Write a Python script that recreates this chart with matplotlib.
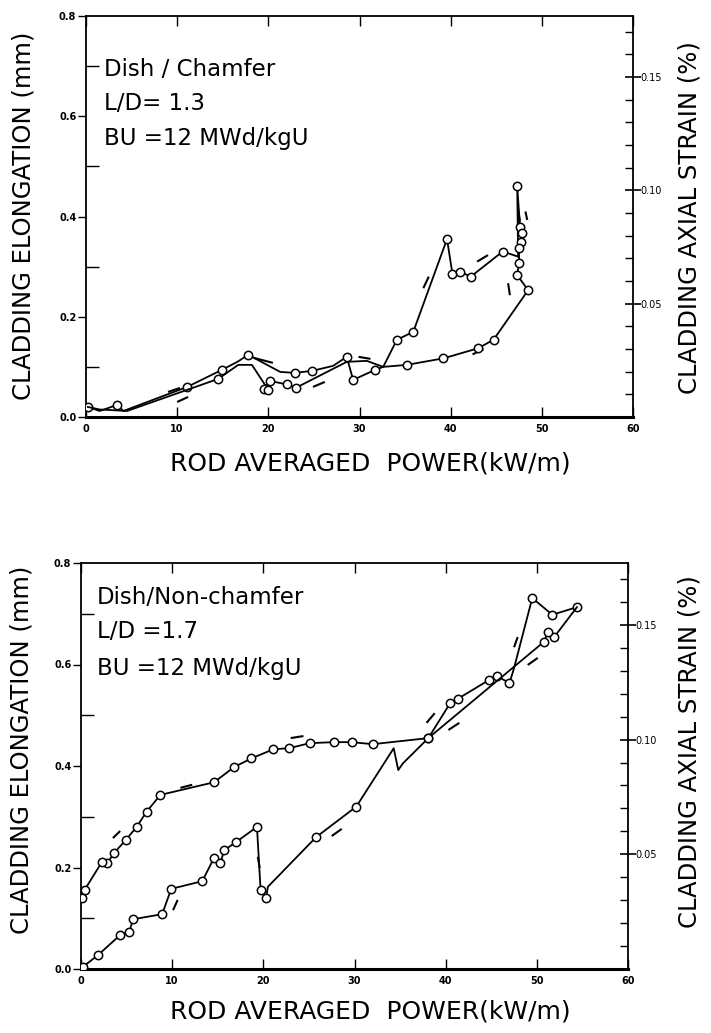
import matplotlib
matplotlib.use("Agg")
import matplotlib.pyplot as plt
from matplotlib.ticker import MultipleLocator, FixedLocator

plt.rcParams['font.family'] = ['DejaVu Sans']

W, H = 711, 1033
ROD_LEN = 4.52  # mm of elongation per 1 % axial strain (scaled)

# ---- upper panel: dish / chamfer ----
up_x = [0.2, 1.5, 3.4, 4.1, 11.1, 14.9, 16.6, 17.8, 21.3, 22.9, 24.8, 27.1, 28.6, 29.3, 31.7,
        32.6, 34.1, 35.9, 39.6, 40.2, 41.0, 42.2, 45.7, 47.4]
up_y = [0.020, 0.012, 0.024, 0.012, 0.060, 0.094, 0.110, 0.124, 0.090, 0.088, 0.092, 0.102, 0.120,
        0.074, 0.094, 0.100, 0.154, 0.170, 0.355, 0.285, 0.290, 0.280, 0.330, 0.320]
up_mk = [0, 2, 4, 5, 7, 9, 10, 12, 13, 14, 16, 17, 18, 19, 20, 21, 22]

dn_x = [47.4, 47.3, 47.6, 47.8, 47.7, 47.5, 47.5, 47.3, 48.5, 44.7, 43.0, 39.2, 35.2, 32.6,
        30.8, 28.6, 23.0, 22.0, 20.2, 19.5, 20.0, 18.2, 16.7, 14.5, 4.5, 1.5, 0.2]
dn_y = [0.320, 0.460, 0.380, 0.367, 0.350, 0.337, 0.307, 0.283, 0.253, 0.154, 0.137, 0.117,
        0.104, 0.100, 0.112, 0.110, 0.058, 0.065, 0.072, 0.056, 0.054, 0.104, 0.104, 0.076,
        0.012, 0.015, 0.020]
dn_mk = [1, 2, 3, 4, 5, 6, 7, 8, 9, 10, 11, 12, 16, 17, 18, 19, 20, 23]

# short dashed segments: (x0, x1, y0, y1)
dash_top = [(9.0, 10.3, 0.050, 0.058), (10.0, 11.2, 0.030, 0.040), (18.4, 20.5, 0.118, 0.108),
            (24.9, 26.2, 0.060, 0.070), (29.9, 31.2, 0.120, 0.116), (37.0, 37.6, 0.257, 0.280),
            (42.9, 44.1, 0.310, 0.323), (47.4, 47.6, 0.413, 0.390), (48.2, 48.4, 0.410, 0.393),
            (46.3, 46.5, 0.267, 0.243), (42.4, 43.6, 0.125, 0.135)]

# ---- lower panel: dish / non-chamfer ----
ld_x = [0.2, 1.9, 4.3, 5.3, 5.7, 8.9, 9.9, 13.3, 14.6, 15.3, 15.7, 17.0, 19.3, 19.7, 20.3, 20.5,
        25.8, 30.2, 34.3, 34.8, 35.3, 38.1, 40.5, 41.3, 44.8, 45.6, 47.0, 47.5, 49.5, 51.7, 54.4]
ld_y = [0.004, 0.028, 0.067, 0.073, 0.098, 0.108, 0.158, 0.173, 0.219, 0.209, 0.234, 0.250,
        0.280, 0.156, 0.140, 0.162, 0.260, 0.320, 0.435, 0.392, 0.405, 0.455, 0.524, 0.532,
        0.570, 0.578, 0.563, 0.593, 0.731, 0.698, 0.713]
ld_mk = [0, 1, 2, 3, 4, 5, 6, 7, 8, 9, 10, 11, 12, 13, 14, 16, 17, 21, 22, 23, 24, 25, 26, 28, 29, 30]

ul_x = [54.4, 51.9, 51.2, 50.8, 38.1, 32.0, 29.7, 27.7, 25.1, 22.8, 21.1, 18.7, 16.8, 14.6,
        8.7, 7.2, 6.1, 4.9, 3.6, 2.9, 2.3, 0.4, 0.1]
ul_y = [0.713, 0.654, 0.664, 0.645, 0.455, 0.443, 0.447, 0.447, 0.445, 0.435, 0.433, 0.415,
        0.398, 0.368, 0.343, 0.310, 0.280, 0.254, 0.228, 0.209, 0.211, 0.156, 0.140]
ul_mk = list(range(1, 23))

dash_bot = [(3.5, 4.3, 0.258, 0.272), (10.9, 12.2, 0.357, 0.363), (23.0, 24.4, 0.455, 0.459),
            (19.4, 19.6, 0.221, 0.199), (10.1, 10.6, 0.116, 0.136), (27.5, 28.6, 0.262, 0.276),
            (37.9, 38.8, 0.485, 0.504), (40.3, 41.5, 0.471, 0.485), (47.5, 47.9, 0.634, 0.654),
            (49.0, 50.1, 0.599, 0.613)]

xticks = [0, 10, 20, 30, 40, 50, 60]
yticks = [0.0, 0.2, 0.4, 0.6, 0.8]
strain_ticks = [0.05, 0.10, 0.15]

fig = plt.figure(figsize=(W / 100, H / 100), dpi=100)


def px_axes(left, top, right, bottom):
    return fig.add_axes([left / W, 1 - bottom / H, (right - left) / W, (bottom - top) / H])


def draw_panel(ax, branches, dashes, lines):
    for bx, by, mk in branches:
        ax.plot(bx, by, color='black', lw=1.3, marker='o', ms=6, mfc='white',
                mec='black', mew=1.1, markevery=mk, zorder=3)
    for x0, x1, y0, y1 in dashes:
        ax.plot([x0, x1], [y0, y1], color='black', lw=1.5, solid_capstyle='butt')
    ax.set_xlim(0, 60)
    ax.set_ylim(0, 0.8)
    ax.set_xticks(xticks)
    ax.set_xticklabels([str(v) for v in xticks], fontsize=7, fontweight='bold')
    ax.set_yticks(yticks)
    ax.set_yticklabels(['%.1f' % v for v in yticks], fontsize=7, fontweight='bold')
    ax.yaxis.set_minor_locator(FixedLocator([0.1, 0.3, 0.5, 0.7]))
    ax.tick_params(axis='x', which='major', direction='in', length=7, width=1.0,
                   top=True, pad=5)
    ax.tick_params(axis='y', which='major', direction='out', length=6, width=1.0, pad=1)
    ax.tick_params(axis='y', which='minor', direction='in', length=9, width=1.0)
    for side in ['left', 'top', 'right']:
        ax.spines[side].set_linewidth(1.3)
    ax.spines['bottom'].set_linewidth(2.2)

    ax2 = ax.twinx()
    ax2.set_ylim(0, 0.8 / ROD_LEN)
    ax2.set_yticks(strain_ticks)
    ax2.set_yticklabels(['%.2f' % v for v in strain_ticks], fontsize=7)
    ax2.yaxis.set_minor_locator(MultipleLocator(0.01))
    ax2.tick_params(axis='y', which='major', direction='inout', length=12, width=1.2, pad=-1)
    ax2.tick_params(axis='y', which='minor', direction='in', length=6, width=1.0)
    for side in ax2.spines:
        ax2.spines[side].set_visible(False)

    for txt, (tx, ty) in lines:
        fig.text(tx / W, 1 - ty / H, txt, fontsize=16.5, ha='left', va='center')


ax_top = px_axes(86, 16, 633, 417)
draw_panel(ax_top, [(up_x, up_y, up_mk), (dn_x, dn_y, dn_mk)], dash_top,
           [('Dish / Chamfer', (104, 70)), ('L/D= 1.3', (104, 104)),
            ('BU =12 MWd/kgU', (104, 138))])

ax_bot = px_axes(81, 563, 628, 969)
draw_panel(ax_bot, [(ld_x, ld_y, ld_mk), (ul_x, ul_y, ul_mk)], dash_bot,
           [('Dish/Non-chamfer', (97, 597)), ('L/D =1.7', (97, 632)),
            ('BU =12 MWd/kgU', (97, 668))])

for cy, cx_l, cx_r, xl_y in [(216, 24, 690, 463), (750, 22, 690, 1011)]:
    fig.text(cx_l / W, 1 - cy / H, 'CLADDING ELONGATION (mm)', rotation=90,
             fontsize=17.5, ha='center', va='center')
    fig.text(cx_r / W, 1 - (cy + 2) / H, 'CLADDING AXIAL STRAIN (%)', rotation=90,
             fontsize=17.5, ha='center', va='center')
    fig.text(370 / W, 1 - xl_y / H, 'ROD AVERAGED  POWER(kW/m)',
             fontsize=18, ha='center', va='center')

fig.savefig('out.png', dpi=100, facecolor='white')
